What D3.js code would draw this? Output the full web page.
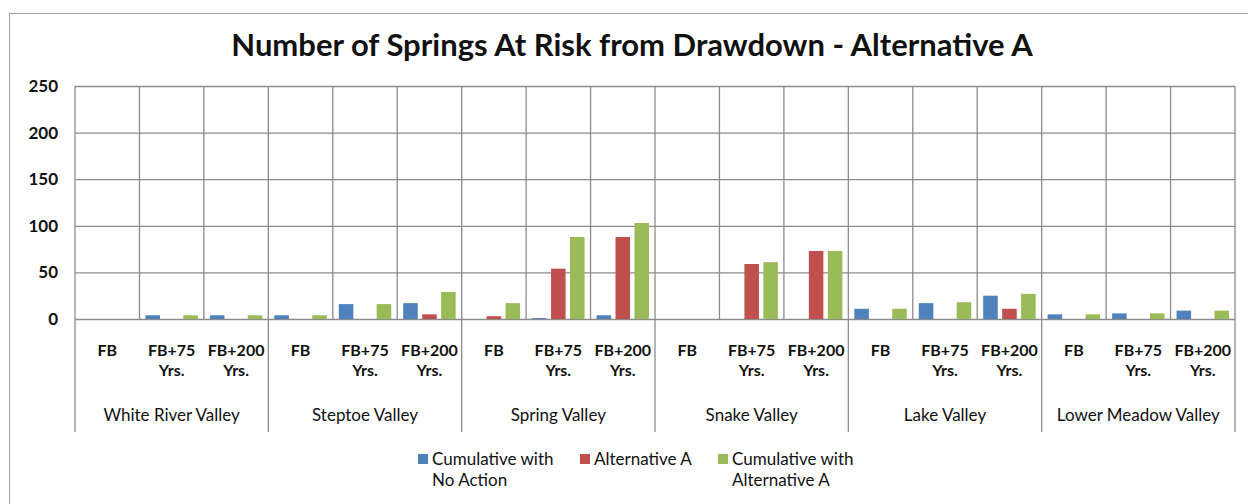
<!DOCTYPE html>
<html>
<head>
<meta charset="utf-8">
<script src="https://cdn.jsdelivr.net/npm/d3@7"></script>
<style>
  body { margin: 0; background: #fff; }
  svg { display: block; font-family: Lato, "Open Sans", sans-serif; }
</style>
</head>
<body>
<div id="chart"></div>
<script>
const valleys = ["White River Valley", "Steptoe Valley", "Spring Valley", "Snake Valley", "Lake Valley", "Lower Meadow Valley"];
const periods = ["FB", "FB+75 Yrs.", "FB+200 Yrs."];
const seriesNames = ["Cumulative with No Action", "Alternative A", "Cumulative with Alternative A"];
const noAction = [0, 4, 4, 4, 16, 17, 0, 1, 4, 0, 0, 0, 11, 17, 25, 5, 6, 9];
const altA = [0, 0, 0, 0, 0, 5, 3, 54, 88, 0, 59, 73, 0, 0, 11, 0, 0, 0];
const cumAltA = [0, 4, 4, 4, 16, 29, 17, 88, 103, 0, 61, 73, 11, 18, 27, 5, 6, 9];
const yTicks = [0, 50, 100, 150, 200, 250];
const colors = ["#4F81BD", "#C0504D", "#9BBB59"];

(function () {
  const W = 1248, H = 504;
  const plotL = 75, plotR = 1235, plotT = 86, zero = 319;
  const gridColor = "#8c8c8c";

  const cats = valleys.flatMap(v => periods.map(p => v + "|" + p));
  const values = [noAction, altA, cumAltA];
  const rows = cats.map((c, i) => ({ cat: c, vals: values.map(s => s[i]) }));

  const svg = d3.select("#chart").append("svg")
    .attr("width", W)
    .attr("height", H);

  // outer frame
  svg.append("rect")
    .attr("x", 9.5).attr("y", 13.5)
    .attr("width", W + 20).attr("height", H + 20)
    .attr("fill", "none")
    .attr("stroke", "#a0a0a0");

  const x = d3.scaleBand().domain(cats).range([plotL, plotR]);
  const xs = d3.scaleBand().domain(seriesNames).range([6, x.bandwidth() - 6]).paddingInner(0.233);
  const y = d3.scaleLinear().domain([0, 250]).range([zero, plotT]);
  const color = d3.scaleOrdinal().domain(seriesNames).range(colors);

  // horizontal gridlines + y labels
  svg.append("g")
    .attr("transform", `translate(${plotL},0)`)
    .call(d3.axisLeft(y).tickValues(yTicks).tickSize(-(plotR - plotL)).tickPadding(17))
    .call(g => g.select(".domain").remove())
    .call(g => g.selectAll(".tick line").attr("stroke", gridColor).attr("stroke-width", 1.3))
    .call(g => g.selectAll(".tick text")
      .attr("fill", "#111")
      .style("font-family", "Lato, sans-serif")
      .style("font-size", "17px")
      .style("font-weight", "700"));

  // vertical gridlines at category boundaries
  const bounds = cats.map(c => x(c)).concat([plotR]);
  svg.append("g").selectAll("line")
    .data(bounds)
    .join("line")
    .attr("x1", d => d).attr("x2", d => d)
    .attr("y1", plotT).attr("y2", zero)
    .attr("stroke", gridColor)
    .attr("stroke-width", 1.3);

  // valley separators below axis
  const vBounds = valleys.map(v => x(v + "|" + periods[0])).concat([plotR]);
  svg.append("g").selectAll("line")
    .data(vBounds)
    .join("line")
    .attr("x1", d => d).attr("x2", d => d)
    .attr("y1", zero).attr("y2", 432)
    .attr("stroke", gridColor)
    .attr("stroke-width", 1.3);

  // bars
  svg.append("g").selectAll("g")
    .data(rows)
    .join("g")
    .attr("transform", d => `translate(${x(d.cat)},0)`)
    .selectAll("rect")
    .data(d => d.vals.map((v, i) => ({ name: seriesNames[i], v })))
    .join("rect")
    .attr("x", d => xs(d.name))
    .attr("width", xs.bandwidth())
    .attr("y", d => y(d.v))
    .attr("height", d => zero - y(d.v))
    .attr("fill", d => color(d.name));

  // word wrap helper
  function wrap(textSel, width, lineH) {
    textSel.each(function () {
      const t = d3.select(this);
      const words = t.text().split(/\s+/);
      const xPos = t.attr("x");
      t.text(null);
      let line = [];
      let tspan = t.append("tspan").attr("x", xPos).attr("dy", 0);
      words.forEach(w => {
        line.push(w);
        tspan.text(line.join(" "));
        if (tspan.node().getComputedTextLength() > width && line.length > 1) {
          line.pop();
          tspan.text(line.join(" "));
          line = [w];
          tspan = t.append("tspan").attr("x", xPos).attr("dy", lineH).text(w);
        }
      });
    });
  }

  // period labels
  svg.append("g").selectAll("text")
    .data(cats)
    .join("text")
    .attr("x", d => x(d) + x.bandwidth() / 2)
    .attr("y", 356)
    .attr("text-anchor", "middle")
    .attr("fill", "#111")
    .style("font-size", "16px")
    .style("font-weight", "700")
    .text(d => d.split("|")[1])
    .call(wrap, x.bandwidth() - 4, 20);

  // valley labels
  svg.append("g").selectAll("text")
    .data(valleys)
    .join("text")
    .attr("x", d => x(d + "|" + periods[0]) + x.bandwidth() * periods.length / 2)
    .attr("y", 421)
    .attr("text-anchor", "middle")
    .attr("fill", "#111")
    .style("font-size", "17px")
    .text(d => d);

  // title
  svg.append("text")
    .attr("x", 632)
    .attr("y", 56)
    .attr("text-anchor", "middle")
    .attr("fill", "#111")
    .style("font-size", "31px")
    .style("font-weight", "700")
    .text("Number of Springs At Risk from Drawdown - Alternative A");

  // legend
  const legendX = [418, 580, 718];
  const legend = svg.append("g").selectAll("g")
    .data(seriesNames)
    .join("g")
    .attr("transform", (d, i) => `translate(${legendX[i]},454)`);

  legend.append("rect")
    .attr("width", 10).attr("height", 10)
    .attr("fill", d => color(d));

  legend.append("text")
    .attr("x", 14)
    .attr("y", 11)
    .attr("fill", "#111")
    .style("font-size", "17px")
    .text(d => d)
    .call(wrap, 135, 21);
})();
</script>
</body>
</html>
